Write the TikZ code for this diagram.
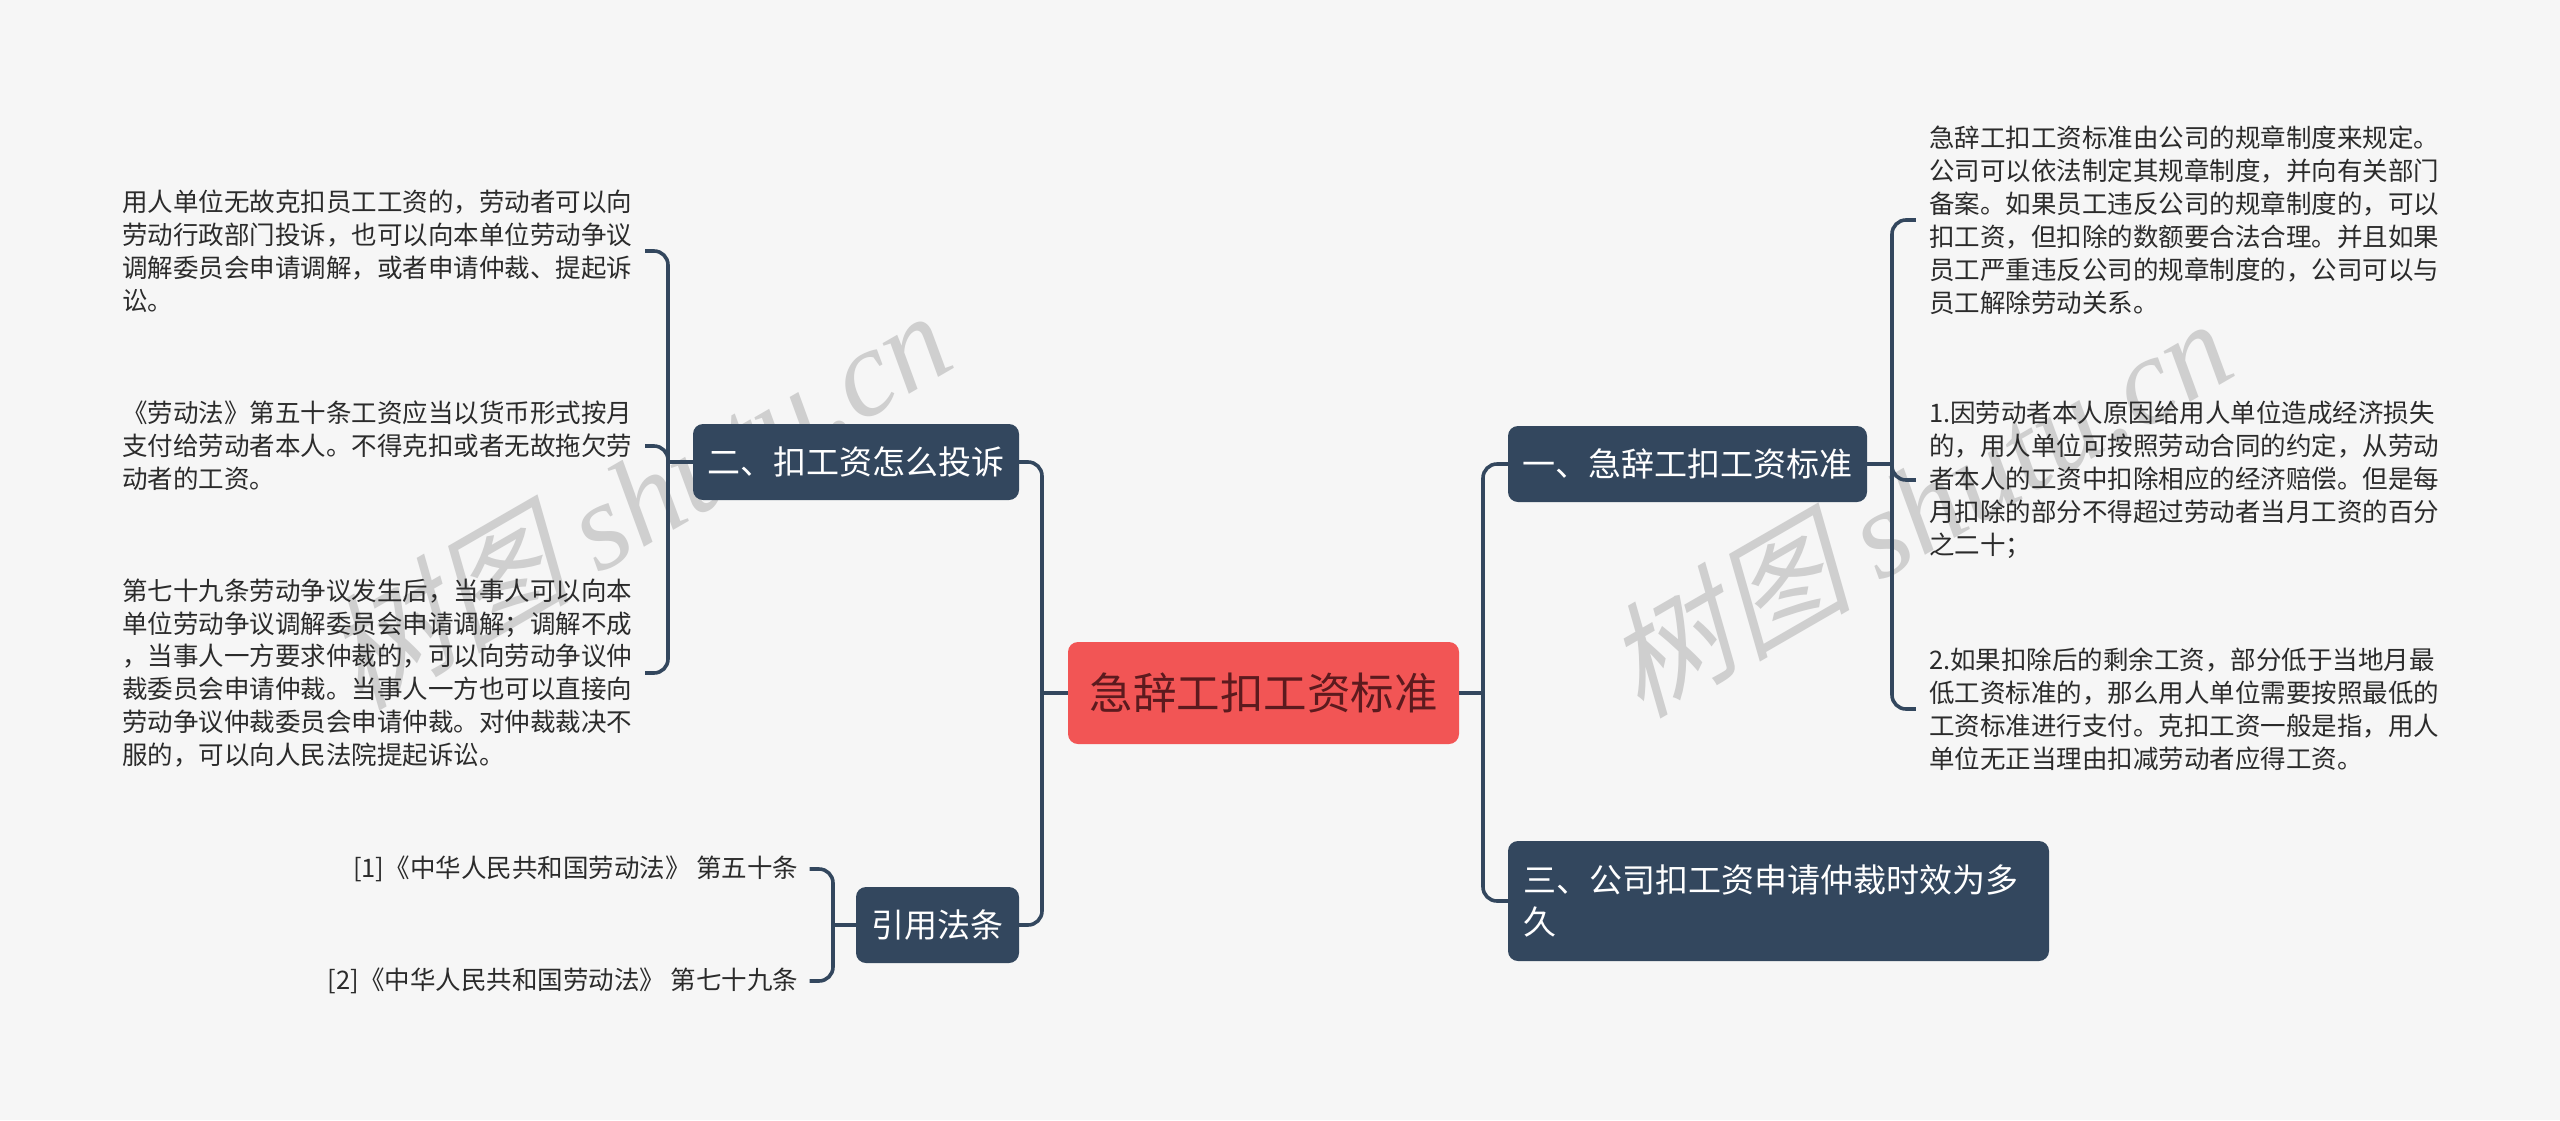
\documentclass[tikz,border=0pt]{standalone}
\usepackage{fontspec}
\setmainfont{Noto Sans CJK SC}
\newfontfamily\wmcjk[FakeSlant=0.25]{Noto Sans CJK SC}
\newfontfamily\wmlat{Liberation Serif}
\definecolor{bg}{HTML}{F6F6F6}
\definecolor{navy}{HTML}{33475E}
\definecolor{rootred}{HTML}{F25555}
\definecolor{rootink}{HTML}{5C1A1E}
\definecolor{leafink}{HTML}{2B2B2B}
\definecolor{wm}{HTML}{CFCFCF}
\tikzset{
  branch/.style={fill=navy,text=white,rounded corners=10pt,inner sep=0pt,
    font=\fontsize{33pt}{42.5pt}\selectfont,align=center},
  rootbox/.style={fill=rootred,text=rootink,rounded corners=10pt,inner sep=0pt,
    font=\fontsize{43.5pt}{52pt}\selectfont,align=center,minimum width=391pt,minimum height=102pt},
  leaf/.style={text=leafink,inner xsep=13pt,inner ysep=0pt,text width=510pt,align=left,
    font=\fontsize{25.5pt}{32.9pt}\selectfont},
  refitem/.style={text=leafink,inner xsep=11pt,inner ysep=0pt,anchor=east,
    font=\fontsize{25.5pt}{32.9pt}\selectfont},
  conn/.style={draw=navy,line width=3.6pt,rounded corners=14pt},
  wmark/.style={text=wm,rotate=30,inner sep=0pt,font=\fontsize{124pt}{124pt}\selectfont}
}
\begin{document}
\begin{tikzpicture}[x=1pt,y=-1pt]
\path[use as bounding box,fill=bg] (0,0) rectangle (2560,1120);

% watermarks
\node[wmark] (wa) at (636,498) {{\wmcjk 树图} {\wmlat\itshape shutu.cn}};
\node[wmark] (wb) at (1917,506) {{\wmcjk 树图} {\wmlat\itshape shutu.cn}};

% nodes
\node[rootbox] (root) at (1263.5,693) {急辞工扣工资标准};
\node[branch,minimum width=359pt,minimum height=76pt] (n1) at (1687.5,464) {一、急辞工扣工资标准};
\node[branch,minimum width=326pt,minimum height=76pt] (n2) at (856,462) {二、扣工资怎么投诉};
\node[branch,text width=511pt,inner xsep=15pt,align=left,minimum height=120pt] (n3) at (1778.5,901) {三、公司扣工资申请仲裁时效为多\\久};
\node[branch,minimum width=163pt,minimum height=76pt] (n4) at (937.5,925) {引用法条};

% right leaves
\node[leaf] (r1) at (2184,220) {急辞工扣工资标准由公司的规章制度来规定。\\公司可以依法制定其规章制度，并向有关部门\\备案。如果员工违反公司的规章制度的，可以\\扣工资，但扣除的数额要合法合理。并且如果\\员工严重违反公司的规章制度的，公司可以与\\员工解除劳动关系。};
\node[leaf] (r2) at (2184,480) {1.因劳动者本人原因给用人单位造成经济损失\\的，用人单位可按照劳动合同的约定，从劳动\\者本人的工资中扣除相应的经济赔偿。但是每\\月扣除的部分不得超过劳动者当月工资的百分\\之二十；};
\node[leaf] (r3) at (2184,709) {2.如果扣除后的剩余工资，部分低于当地月最\\低工资标准的，那么用人单位需要按照最低的\\工资标准进行支付。克扣工资一般是指，用人\\单位无正当理由扣减劳动者应得工资。};

% left leaves
\node[leaf] (l1) at (377,251) {用人单位无故克扣员工工资的，劳动者可以向\\劳动行政部门投诉，也可以向本单位劳动争议\\调解委员会申请调解，或者申请仲裁、提起诉\\讼。};
\node[leaf] (l2) at (377,446) {《劳动法》第五十条工资应当以货币形式按月\\支付给劳动者本人。不得克扣或者无故拖欠劳\\动者的工资。};
\node[leaf] (l3) at (377,673) {第七十九条劳动争议发生后，当事人可以向本\\单位劳动争议调解委员会申请调解；调解不成\\，当事人一方要求仲裁的，可以向劳动争议仲\\裁委员会申请仲裁。当事人一方也可以直接向\\劳动争议仲裁委员会申请仲裁。对仲裁裁决不\\服的，可以向人民法院提起诉讼。};

% citations
\node[refitem] (c1) at (809.5,869) {[1]《中华人民共和国劳动法》 第五十条};
\node[refitem] (c2) at (809.5,981) {[2]《中华人民共和国劳动法》 第七十九条};

% junctions
\coordinate (sr) at (1483,693);
\coordinate (sl) at (1042,693);
\coordinate (s1) at (1892,464);
\coordinate (s2) at (668,462);
\coordinate (s4) at (833,925);

% connectors
\draw[conn] (root.east) -- (sr);
\draw[conn] (sr) |- (n1.west);
\draw[conn] (sr) |- (n3.west);
\draw[conn] (root.west) -- (sl);
\draw[conn] (sl) |- (n2.east);
\draw[conn] (sl) |- (n4.east);
\draw[conn] (n1.east) -- (s1);
\draw[conn] (s1) |- (r1.west);
\draw[conn] (s1) |- (r2.west);
\draw[conn] (s1) |- (r3.west);
\draw[conn] (n2.west) -- (s2);
\draw[conn] (s2) |- (l1.east);
\draw[conn] (s2) |- (l2.east);
\draw[conn] (s2) |- (l3.east);
\draw[conn] (n4.west) -- (s4);
\draw[conn] (s4) |- (c1.east);
\draw[conn] (s4) |- (c2.east);
\end{tikzpicture}
\end{document}
